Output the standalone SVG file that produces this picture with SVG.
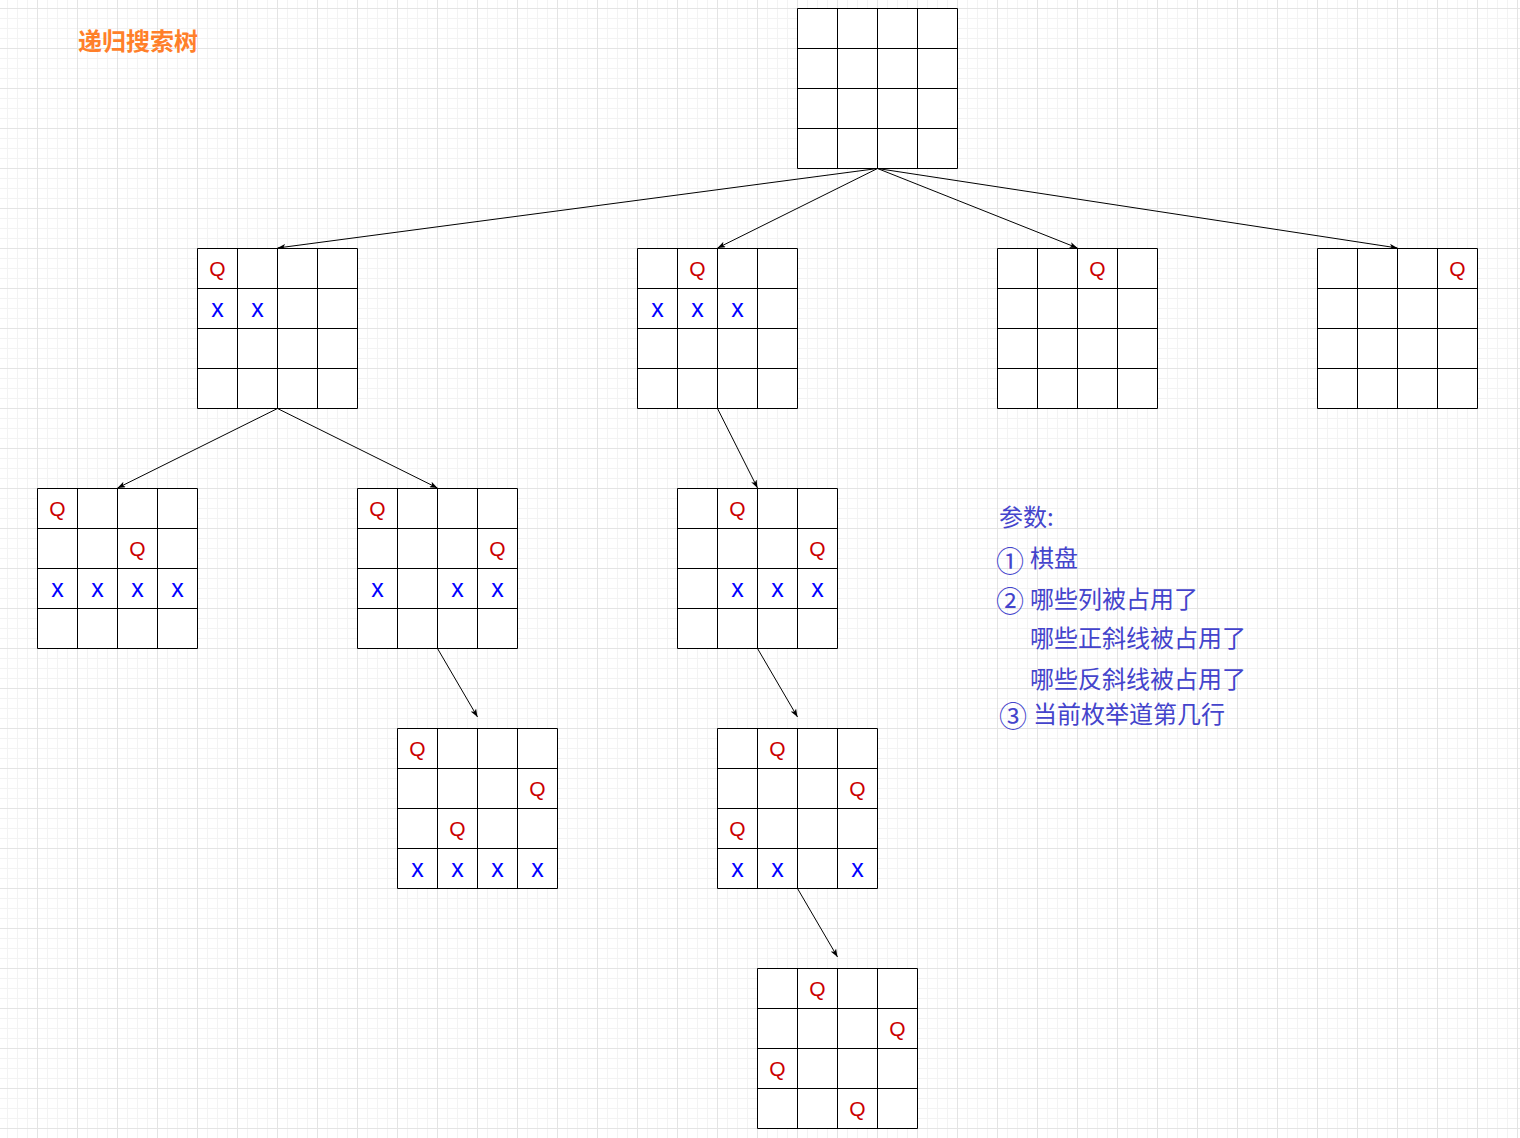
<svg xmlns="http://www.w3.org/2000/svg" xmlns:xlink="http://www.w3.org/1999/xlink" width="1520" height="1138" viewBox="0 0 1520 1138">
<defs>
<pattern id="grid" x="37" y="8" width="40" height="40" patternUnits="userSpaceOnUse">
<path d="M10.5,0V40M20.5,0V40M30.5,0V40M0,10.5H40M0,20.5H40M0,30.5H40" stroke="#f3f3f3" stroke-width="1" fill="none"/>
<path d="M0.5,0V40M0,0.5H40" stroke="#e4e4e4" stroke-width="1" fill="none"/>
</pattern>
<marker id="arr" viewBox="0 0 8 6" markerWidth="8" markerHeight="6" refX="8" refY="3" orient="auto" markerUnits="userSpaceOnUse">
<path d="M0,0 L8,3 L0,6 L2,3 Z" fill="#000"/>
</marker>
<g id="board">
<rect x="0.5" y="0.5" width="160" height="160" fill="#fff"/>
<path d="M0.5,0.5H160.5V160.5H0.5Z M40.5,0.5V160.5 M80.5,0.5V160.5 M120.5,0.5V160.5 M0.5,40.5H160.5 M0.5,80.5H160.5 M0.5,120.5H160.5" stroke="#000" stroke-width="1" fill="none"/>
</g>
</defs>
<style>
.q{font-family:"Liberation Sans",Arial,sans-serif;font-size:21px;fill:#cc0000;text-anchor:middle}
.x{font-family:"Liberation Sans",Arial,sans-serif;font-size:25px;fill:#0000ff;text-anchor:middle}
.edge{stroke:#000;stroke-width:1;fill:none;marker-end:url(#arr)}
.title{font-family:"Liberation Sans","Noto Sans CJK SC",sans-serif;font-size:24px;font-weight:bold;fill:#ff7f2a}
.param{font-family:"Noto Sans CJK SC","Liberation Sans",sans-serif;font-size:24px;fill:#4444cc}
.num{font-size:28px}
</style>
<rect x="0" y="0" width="1520" height="1138" fill="#fff"/>
<rect x="0" y="0" width="1520" height="1138" fill="url(#grid)"/>

<g id="connectors">
<line class="edge" x1="877.5" y1="168.5" x2="277.5" y2="248"/>
<line class="edge" x1="877.5" y1="168.5" x2="717.5" y2="248"/>
<line class="edge" x1="877.5" y1="168.5" x2="1077.5" y2="248"/>
<line class="edge" x1="877.5" y1="168.5" x2="1397.5" y2="248"/>
<line class="edge" x1="277.5" y1="408.5" x2="117.5" y2="488"/>
<line class="edge" x1="277.5" y1="408.5" x2="437.5" y2="488"/>
<line class="edge" x1="717.5" y1="408.5" x2="757.5" y2="488"/>
<line class="edge" x1="437.5" y1="648.5" x2="477.5" y2="717"/>
<line class="edge" x1="757.5" y1="648.5" x2="797.5" y2="717"/>
<line class="edge" x1="797.5" y1="888.5" x2="837.5" y2="957"/>
</g>

<g id="root" transform="translate(797,8)">
<use xlink:href="#board"/>
</g>

<g id="boardA" transform="translate(197,248)">
<use xlink:href="#board"/>
<text class="q" x="20.5" y="27.5">Q</text>
<text class="x" x="20.5" y="69">x</text>
<text class="x" x="60.5" y="69">x</text>
</g>

<g id="boardB" transform="translate(637,248)">
<use xlink:href="#board"/>
<text class="q" x="60.5" y="27.5">Q</text>
<text class="x" x="20.5" y="69">x</text>
<text class="x" x="60.5" y="69">x</text>
<text class="x" x="100.5" y="69">x</text>
</g>

<g id="boardC" transform="translate(997,248)">
<use xlink:href="#board"/>
<text class="q" x="100.5" y="27.5">Q</text>
</g>

<g id="boardD" transform="translate(1317,248)">
<use xlink:href="#board"/>
<text class="q" x="140.5" y="27.5">Q</text>
</g>

<g id="boardE" transform="translate(37,488)">
<use xlink:href="#board"/>
<text class="q" x="20.5" y="27.5">Q</text>
<text class="q" x="100.5" y="67.5">Q</text>
<text class="x" x="20.5" y="109">x</text>
<text class="x" x="60.5" y="109">x</text>
<text class="x" x="100.5" y="109">x</text>
<text class="x" x="140.5" y="109">x</text>
</g>

<g id="boardF" transform="translate(357,488)">
<use xlink:href="#board"/>
<text class="q" x="20.5" y="27.5">Q</text>
<text class="q" x="140.5" y="67.5">Q</text>
<text class="x" x="20.5" y="109">x</text>
<text class="x" x="100.5" y="109">x</text>
<text class="x" x="140.5" y="109">x</text>
</g>

<g id="boardG" transform="translate(677,488)">
<use xlink:href="#board"/>
<text class="q" x="60.5" y="27.5">Q</text>
<text class="q" x="140.5" y="67.5">Q</text>
<text class="x" x="60.5" y="109">x</text>
<text class="x" x="100.5" y="109">x</text>
<text class="x" x="140.5" y="109">x</text>
</g>

<g id="boardH" transform="translate(397,728)">
<use xlink:href="#board"/>
<text class="q" x="20.5" y="27.5">Q</text>
<text class="q" x="140.5" y="67.5">Q</text>
<text class="q" x="60.5" y="107.5">Q</text>
<text class="x" x="20.5" y="149">x</text>
<text class="x" x="60.5" y="149">x</text>
<text class="x" x="100.5" y="149">x</text>
<text class="x" x="140.5" y="149">x</text>
</g>

<g id="boardI" transform="translate(717,728)">
<use xlink:href="#board"/>
<text class="q" x="60.5" y="27.5">Q</text>
<text class="q" x="140.5" y="67.5">Q</text>
<text class="q" x="20.5" y="107.5">Q</text>
<text class="x" x="20.5" y="149">x</text>
<text class="x" x="60.5" y="149">x</text>
<text class="x" x="140.5" y="149">x</text>
</g>

<g id="boardJ" transform="translate(757,968)">
<use xlink:href="#board"/>
<text class="q" x="60.5" y="27.5">Q</text>
<text class="q" x="140.5" y="67.5">Q</text>
<text class="q" x="20.5" y="107.5">Q</text>
<text class="q" x="100.5" y="147.5">Q</text>
</g>

<g id="title">
<text class="title" x="78" y="50">递归搜索树</text>
</g>

<g id="params">
<text class="param" x="999" y="526">参数:</text>
<text class="param" y="567"><tspan class="num" x="996" y="572">①</tspan><tspan x="1030" y="567">棋盘</tspan></text>
<text class="param" y="608"><tspan class="num" x="996" y="612">②</tspan><tspan x="1030" y="608">哪些列被占用了</tspan></text>
<text class="param" x="1030" y="647">哪些正斜线被占用了</text>
<text class="param" x="1030" y="688">哪些反斜线被占用了</text>
<text class="param" y="723"><tspan class="num" x="999" y="727">③</tspan><tspan x="1033" y="723">当前枚举道第几行</tspan></text>
</g>
</svg>
